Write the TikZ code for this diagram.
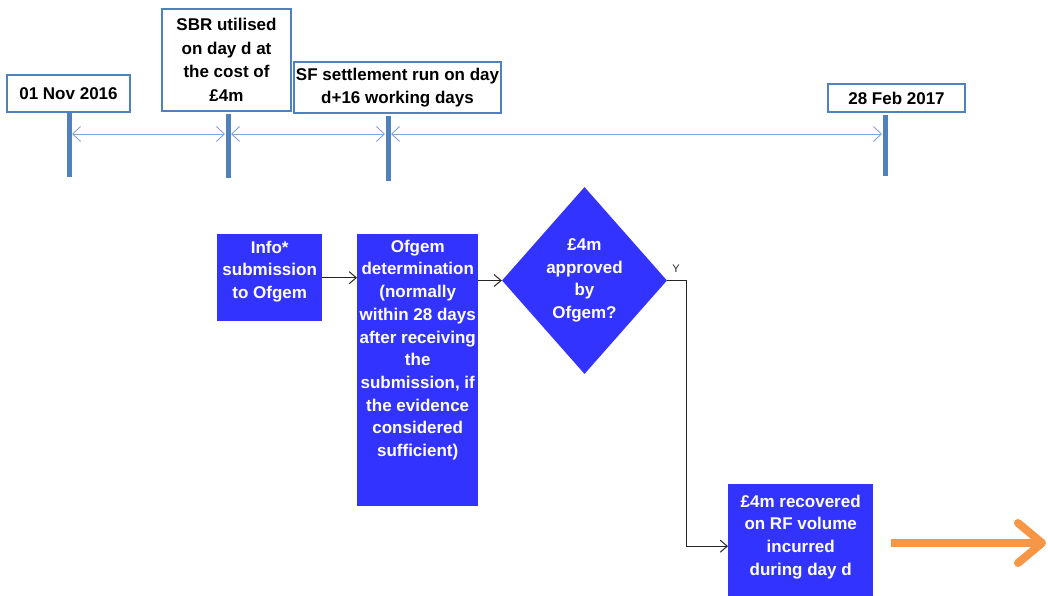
\documentclass[tikz,border=0pt]{standalone}
\usepackage{fontspec}
\setmainfont{Liberation Sans}
\usetikzlibrary{positioning}
\usetikzlibrary{shapes.geometric}
\usetikzlibrary{arrows.meta}
\definecolor{tlblue}{HTML}{4F81BD}
\definecolor{spanblue}{HTML}{7EA3D6}
\definecolor{flowblue}{HTML}{3333FF}
\definecolor{outorange}{HTML}{F79646}
\newcommand{\flowtext}[4]{\parbox[c][#2][t]{#1}{\centering\rule{0pt}{#3}#4}}

\begin{document}
\begin{tikzpicture}[x=1pt, y=-1pt,
datebox/.style={rectangle, draw=tlblue, fill=white, line width=1.2pt, inner sep=0pt, align=center, font=\bfseries\fontsize{17}{23.5}\selectfont},
tickbar/.style={draw=tlblue, line width=5pt},
span/.style={draw=spanblue, line width=0.9pt, {Straight Barb[length=8pt,width=15pt]}-{Straight Barb[length=8pt,width=15pt]}, shorten <=3pt, shorten >=3pt},
flowbox/.style={rectangle, fill=flowblue, text=white, inner sep=0pt, anchor=north west, font=\bfseries\fontsize{17}{22.7}\selectfont},
decision/.style={diamond, fill=flowblue, text=white, inner sep=0pt, align=center, minimum width=165pt, minimum height=187pt, font=\bfseries\fontsize{17}{22.5}\selectfont},
flowline/.style={draw=black!85, line width=1pt, -{Straight Barb[length=7pt,width=12pt]}},
outflow/.style={draw=outorange, line width=8pt, -{Straight Barb[round,length=24pt,width=40pt]}}]
\useasboundingbox (0,0) rectangle (1048,596);
\clip (0,0) rectangle (1048,596);

% timeline
\coordinate (nov) at (69,134);
\coordinate (sbr) at (228,134);
\coordinate (sf) at (388,134);
\coordinate (feb) at (885,134);
\draw[tickbar] (nov) ++(0,-22) -- ++(0,65);
\draw[tickbar] (sbr) ++(0,-20) -- ++(0,64);
\draw[tickbar] (sf) ++(0,-18) -- ++(0,65);
\draw[tickbar] (feb) ++(0,-19) -- ++(0,61);
\draw[span] (nov) -- (sbr);
\draw[span] (sbr) -- (sf);
\draw[span] (sf) -- (feb);

\node[datebox, minimum width=123pt, minimum height=37pt] (novlabel) at (68.5,93.5) {01 Nov 2016};
\node[datebox, minimum width=129pt, minimum height=102pt] (sbrlabel) at (226.5,60) {SBR utilised\\on day d at\\the cost of\\£4m};
\node[datebox, minimum width=207pt, minimum height=51pt] (sflabel) at (397.5,87.5) {SF settlement run on day\\d+16 working days};
\node[datebox, minimum width=137pt, minimum height=28pt] (feblabel) at (896.5,98) {28 Feb 2017};

% flow
\node[flowbox] (info) at (217,234) {\flowtext{105pt}{87pt}{19pt}{Info*\\submission\\to Ofgem}};
\node[flowbox] (ofgem) at (357,234) {\flowtext{121pt}{272pt}{18pt}{Ofgem\\determination\\(normally\\within 28 days\\after receiving\\the\\submission, if\\the evidence\\considered\\sufficient)}};
\node[decision] (approve) at (584.5,280.5) {£4m\\approved\\by\\Ofgem?};
\node[flowbox] (recover) at (728,484) {\flowtext{145pt}{124pt}{23pt}{£4m recovered\\on RF volume\\incurred\\during day d}};
\coordinate (outend) at (1046,543);

\draw[flowline] (info.east) -- (info.east -| ofgem.west);
\draw[flowline] (ofgem.east |- approve.west) -- (approve.west);
\draw[flowline] (approve.east) -- ++(19,0) |- (recover.west);
\node[font=\fontsize{11}{12}\selectfont, text=black!85] (yes) at (676,269) {Y};
\draw[outflow] ([xshift=18pt]recover.east |- outend) -- (outend);
\end{tikzpicture}
\end{document}
